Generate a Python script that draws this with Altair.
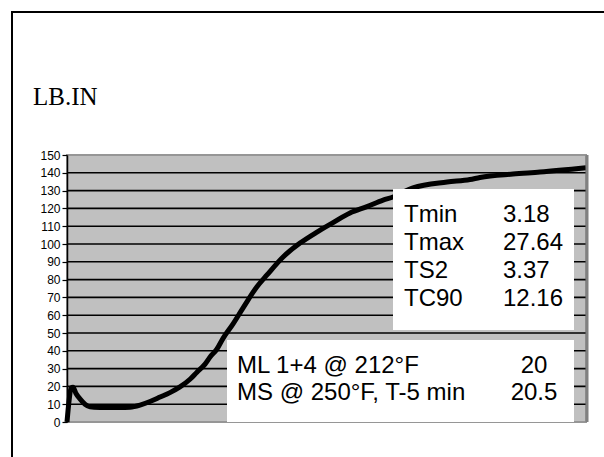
import altair as alt
import pandas as pd

# Cure curve: torque (lb.in) against time (min)
time_min = [0.0, 0.12, 0.23, 0.35, 0.52, 0.75, 1.04, 1.33, 1.91, 2.49, 3.06, 3.64,
            4.22, 4.80, 5.38, 5.95, 6.53, 7.11, 7.51, 7.98, 8.27, 8.67, 9.02, 9.59,
            10.17, 10.98, 11.56, 12.49, 13.47, 14.45, 15.38, 16.36, 17.34, 18.27,
            18.84, 20.00, 21.97, 23.29, 23.87, 25.78, 27.34, 30.0]
torque = [0.0, 12.0, 19.0, 19.5, 16.0, 13.0, 10.0, 8.6, 8.2, 8.1, 8.1, 8.3,
          9.5, 11.5, 14.0, 16.5, 19.7, 24.0, 28.0, 32.5, 36.5, 41.0, 47.0, 55.0,
          64.0, 76.0, 82.6, 92.7, 100.5, 106.7, 112.0, 117.4, 121.0, 124.7,
          126.4, 131.5, 134.8, 136.2, 137.4, 139.3, 140.4, 142.8]

y_ticks = list(range(0, 151, 10))
grid_levels = list(range(10, 141, 10))

stats_labels = ["Tmin", "Tmax", "TS2", "TC90"]
stats_values = ["3.18", "27.64", "3.37", "12.16"]

visc_labels = ["ML 1+4 @ 212°F", "MS @ 250°F, T-5 min"]
visc_values = ["20", "20.5"]

unit_label = "LB.IN"

W, H = 519, 267
SANS = "Liberation Sans, Arial, sans-serif"
SERIF = "Liberation Serif, Times New Roman, serif"

curve_df = pd.DataFrame({"time": time_min, "torque": torque})
grid_df = pd.DataFrame({"level": grid_levels})
one = pd.DataFrame({"k": [0]})

x_scale = alt.Scale(domain=[0, 30], nice=False)
y_scale = alt.Scale(domain=[0, 150], nice=False)

y_axis = alt.Axis(
    values=y_ticks,
    title=None,
    grid=False,
    domainColor="black",
    domainWidth=1.5,
    tickColor="black",
    tickSize=5,
    tickWidth=1.2,
    labelFont=SANS,
    labelFontSize=12,
    labelColor="black",
    labelPadding=2,
)

grid = alt.Chart(grid_df).mark_rule(color="black", strokeWidth=1.6).encode(
    y=alt.Y("level:Q", scale=y_scale, axis=y_axis),
    x=alt.value(0),
    x2=alt.value(W),
)

curve = alt.Chart(curve_df).mark_line(
    color="black", strokeWidth=5, interpolate="monotone", strokeJoin="round"
).encode(
    x=alt.X("time:Q", scale=x_scale, axis=None),
    y=alt.Y("torque:Q", scale=y_scale, axis=y_axis),
)

right_edge = alt.Chart(one).mark_rule(color="#808080", strokeWidth=3).encode(
    x=alt.value(W + 1), y=alt.value(0), y2=alt.value(H)
)

box_stats = alt.Chart(one).mark_rect(fill="white").encode(
    x=alt.value(326), x2=alt.value(507), y=alt.value(34), y2=alt.value(175)
)
box_visc = alt.Chart(one).mark_rect(fill="white").encode(
    x=alt.value(160), x2=alt.value(507), y=alt.value(185), y2=alt.value(267)
)

layers = [grid, curve, right_edge, box_stats, box_visc]

for i, (lab, val) in enumerate(zip(stats_labels, stats_values)):
    yb = 67 + 28 * i
    layers.append(
        alt.Chart(one).mark_text(
            text=lab, align="left", baseline="alphabetic", font=SANS,
            fontSize=24, color="black"
        ).encode(x=alt.value(337), y=alt.value(yb))
    )
    layers.append(
        alt.Chart(one).mark_text(
            text=val, align="left", baseline="alphabetic", font=SANS,
            fontSize=24, color="black"
        ).encode(x=alt.value(436), y=alt.value(yb))
    )

for i, (lab, val) in enumerate(zip(visc_labels, visc_values)):
    yb = 218 + 27 * i
    layers.append(
        alt.Chart(one).mark_text(
            text=lab, align="left", baseline="alphabetic", font=SANS,
            fontSize=24, color="black"
        ).encode(x=alt.value(170), y=alt.value(yb))
    )
    layers.append(
        alt.Chart(one).mark_text(
            text=val, align="center", baseline="alphabetic", font=SANS,
            fontSize=24, color="black"
        ).encode(x=alt.value(467), y=alt.value(yb))
    )

# unit label above the plot
layers.append(
    alt.Chart(one).mark_text(
        text=unit_label, align="left", baseline="alphabetic", font=SERIF,
        fontSize=25, color="black"
    ).encode(x=alt.value(-34), y=alt.value(-50))
)

# outer frame (left and top edges)
layers.append(
    alt.Chart(one).mark_rule(color="black", strokeWidth=2).encode(
        x=alt.value(-55), y=alt.value(-144), y2=alt.value(310)
    )
)
layers.append(
    alt.Chart(one).mark_rule(color="black", strokeWidth=2).encode(
        y=alt.value(-143), x=alt.value(-56), x2=alt.value(545)
    )
)

chart = (
    alt.layer(*layers)
    .resolve_axis(y="shared")
    .properties(
        width=W,
        height=H,
        padding={"left": 67, "top": 155, "right": 18, "bottom": 35},
        autosize=alt.AutoSizeParams(type="none"),
        background="white",
    )
    .configure_view(fill="#c0c0c0", stroke="#969696", strokeWidth=2)
)

chart.save("out.html", embed_options={"renderer": "svg", "actions": False})
